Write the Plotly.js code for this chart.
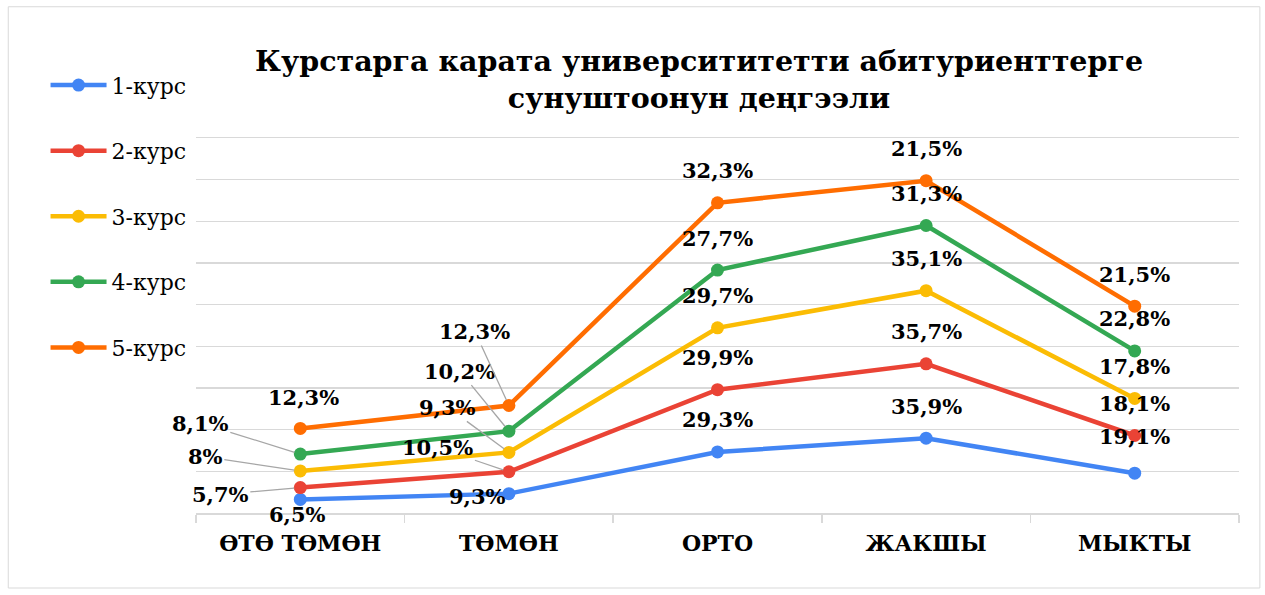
<!DOCTYPE html>
<html><head><meta charset="utf-8">
<script src="https://cdn.plot.ly/plotly-3.0.1.min.js"></script>
<style>html,body{margin:0;padding:0;background:#fff}#c{width:1265px;height:595px}</style>
</head><body><div id="c"></div>
<script>
const categories = ["ӨТӨ ТӨМӨН", "ТӨМӨН", "ОРТО", "ЖАКШЫ", "МЫКТЫ"];
const seriesNames = ["1-курс", "2-курс", "3-курс", "4-курс", "5-курс"];
const kurs1 = [6.5, 9.3, 29.3, 35.9, 19.1];
const kurs2 = [5.7, 10.5, 29.9, 35.7, 18.1];
const kurs3 = [8, 9.3, 29.7, 35.1, 17.8];
const kurs4 = [8.1, 10.2, 27.7, 31.3, 22.8];
const kurs5 = [12.3, 12.3, 32.3, 21.5, 21.5];

const series = [kurs1, kurs2, kurs3, kurs4, kurs5];
const colors = ["#4285F4", "#EA4335", "#FBBC04", "#34A853", "#FF6D01"];
const F = "'DejaVu Serif', serif";

// label offsets (px) [series,category], default above
const offs = {
  "0,0": [-3, 15, false], "1,0": [-80, 7, true], "2,0": [-95, -14, true], "3,0": [-100, -31, true], "4,0": [3, -31, false],
  "0,1": [-31, 3, false], "1,1": [-71, -24, true], "2,1": [-61, -45, true], "3,1": [-49, -60, true], "4,1": [-34, -74, true],
  "0,4": [0, -37, false]
};

const traces = series.map((v, i) => ({
  type: "scatter", mode: "lines+markers", x: categories, y: v, name: seriesNames[i],
  stackgroup: "s", fill: "none", legendgroup: "g" + i,
  line: {color: colors[i], width: 4.5}, marker: {color: colors[i], size: 13}
}));

const annotations = [];
const cum = categories.map(() => 0);
series.forEach((v, i) => {
  v.forEach((val, j) => {
    cum[j] += val;
    const o = offs[i + "," + j] || [0, -32, false];
    annotations.push({
      x: j, y: cum[j], xref: "x", yref: "y",
      text: "<b>" + String(val).replace(".", ",") + "%</b>",
      showarrow: true, ax: o[0], ay: o[1], arrowhead: 0, arrowwidth: 1.3,
      arrowcolor: o[2] ? "#a6a6a6" : "rgba(0,0,0,0)", standoff: 6,
      font: {family: F, size: 21, color: "#000"}
    });
  });
});

const layout = {
  width: 1265, height: 595,
  margin: {l: 196, r: 26, t: 138, b: 82},
  paper_bgcolor: "#fff", plot_bgcolor: "#fff",
  font: {family: F},
  title: {text: "<b>Курстарга карата университитетти абитуриенттерге<br>сунуштоонун деңгээли</b>",
    font: {family: F, size: 28.5, color: "#000"},
    x: 0.5526, xref: "container", xanchor: "center", y: 0.88, yref: "container", yanchor: "top"},
  xaxis: {type: "category", range: [-0.5, 4.5], autorange: false, showgrid: false, showline: true, mirror: true,
    linecolor: "#d9d9d9", linewidth: 1.5,
    ticks: "outside", tickson: "boundaries", ticklen: 8, tickcolor: "#d9d9d9", tickwidth: 1.5, ticklabelstandoff: 10,
    tickfont: {family: F, size: 22, color: "#000", weight: "bold"}, fixedrange: true},
  yaxis: {range: [0, 180], autorange: false, dtick: 20, showgrid: true, gridcolor: "#d9d9d9", gridwidth: 1.5,
    showticklabels: false, zeroline: false, fixedrange: true},
  showlegend: true,
  legend: {xref: "container", yref: "container", x: 0.036, y: 0.892, xanchor: "left", yanchor: "top",
    traceorder: "grouped", tracegroupgap: 34, maxheight: 1, itemwidth: 56, font: {family: F, size: 22, color: "#000"},
    bgcolor: "rgba(0,0,0,0)"},
  annotations: annotations,
  shapes: [{type: "rect", xref: "paper", yref: "paper", x0: -0.18, x1: 1.02, y0: -0.2, y1: 1.35,
    line: {color: "#d9d9d9", width: 1}}]
};
Plotly.newPlot("c", traces, layout, {displayModeBar: false, staticPlot: true});
</script></body></html>
